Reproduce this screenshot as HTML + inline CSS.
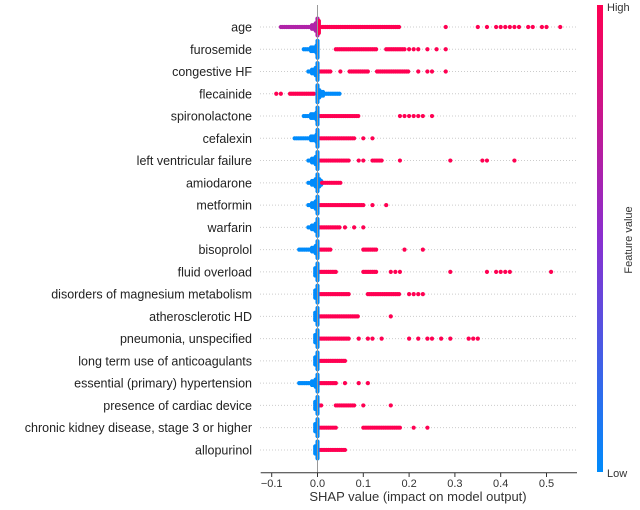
<!DOCTYPE html>
<html><head><meta charset="utf-8"><style>
body{margin:0;background:#fff;width:640px;height:505px;overflow:hidden;font-family:"Liberation Sans","DejaVu Sans",sans-serif}
</style></head><body>
<svg id="chart" width="640" height="505" xmlns="http://www.w3.org/2000/svg">
<defs><linearGradient id="cb" x1="0" y1="1" x2="0" y2="0"><stop offset="0" stop-color="#008bfb"/><stop offset="0.5" stop-color="#8a2fd0"/><stop offset="1" stop-color="#ff0052"/></linearGradient></defs>
<g id="rows"></g><g id="pts"></g><g id="axis"></g>
<rect x="597" y="5" width="6" height="467" fill="url(#cb)"/>
<text x="607" y="11" font-size="11" fill="#333">High</text>
<text x="607" y="477" font-size="11" fill="#333">Low</text>
<text transform="translate(632,240) rotate(-90)" text-anchor="middle" font-size="11" fill="#333">Feature value</text>
<text x="418" y="501" text-anchor="middle" font-size="13" fill="#333">SHAP value (impact on model output)</text>
</svg>
<script>
const features=["age","furosemide","congestive HF","flecainide","spironolactone","cefalexin","left ventricular failure","amiodarone","metformin","warfarin","bisoprolol","fluid overload","disorders of magnesium metabolism","atherosclerotic HD","pneumonia, unspecified","long term use of anticoagulants","essential (primary) hypertension","presence of cardiac device","chronic kidney disease, stage 3 or higher","allopurinol"];
// dense runs of low-value (blue) points [start,end]
const lowRuns=[[-0.08,0],[-0.03,0],[-0.02,0],[0,0.05],[-0.03,0],[-0.05,0],[-0.02,0],[-0.02,0.01],[-0.02,0],[-0.02,0],[-0.04,0],[-0.005,0],[-0.005,0],[-0.005,0],[-0.005,0],[-0.005,0],[-0.04,0],[-0.005,0],[-0.005,0],[-0.005,0]];
// dense runs of high-value (red) points
const highRuns=[[[0.01,0.18]],[[0.04,0.13],[0.15,0.19]],[[0,0.03],[0.07,0.11],[0.13,0.2]],[[-0.06,-0.005]],[[0.005,0.09]],[[0,0.08]],[[0,0.07],[0.12,0.14]],[[0.01,0.05]],[[0,0.1]],[[0,0.05]],[[0,0.03],[0.1,0.13]],[[0,0.04],[0.1,0.13]],[[0,0.07],[0.11,0.18]],[[0,0.09]],[[0,0.07]],[[0,0.06]],[[0,0.04]],[[0,0.01],[0.04,0.08]],[[0,0.04],[0.1,0.18]],[[0,0.06]]];
// isolated high-value points
const highPts=[[0.28,0.35,0.37,0.39,0.4,0.41,0.42,0.43,0.44,0.46,0.47,0.49,0.5,0.53],[0.2,0.21,0.22,0.24,0.26,0.28],[0.05,0.22,0.24,0.25,0.28],[-0.09,-0.08],[0.18,0.19,0.2,0.21,0.22,0.23,0.25],[0.1,0.12],[0.09,0.1,0.18,0.29,0.36,0.37,0.43],[],[0.12,0.15],[0.06,0.08,0.1],[0.19,0.23],[0.16,0.17,0.18,0.29,0.37,0.39,0.4,0.41,0.42,0.51],[0.2,0.21,0.22,0.23],[0.16],[0.09,0.11,0.12,0.14,0.2,0.22,0.24,0.25,0.27,0.29,0.33,0.34,0.35],[],[0.06,0.09,0.11],[0.1,0.16],[0.21,0.24],[]];
const xTicks=[-0.1,0,0.1,0.2,0.3,0.4,0.5];
const xTickLabels=["\u22120.1","0.0","0.1","0.2","0.3","0.4","0.5"];
const NS="http://www.w3.org/2000/svg";
const x=v=>317.5+v*458, y=i=>27+i*22.26;
function mk(tag,at,p){const e=document.createElementNS(NS,tag);for(const k in at)e.setAttribute(k,at[k]);p.appendChild(e);return e;}
const rows=document.getElementById('rows'),pts=document.getElementById('pts'),ax=document.getElementById('axis');
features.forEach((f,i)=>{
 const l=mk('line',{x1:260,x2:577,y1:y(i),y2:y(i),stroke:'#ccc','stroke-dasharray':'1,2'},rows);
 
 const t=mk('text',{x:252,y:y(i)+4.5,'text-anchor':'end','font-size':'12.5',fill:'#222'},rows);
 t.textContent=f;
 
});
function dot(v,yy,c){const d=mk('circle',{cx:x(v),cy:yy,r:2.1,fill:c},pts);
 }
features.forEach((f,i)=>{
 const lowC=i==0?'#b023a8':'#008bfb', hiC='#ff0052';
 const [a,b]=lowRuns[i];
 for(let v=a;v<=b+1e-9;v+=0.004){const near=Math.max(0,1-Math.abs(v)/0.02);const n=Math.round(near*2);
  for(let k=-n;k<=n;k++)dot(v,y(i)+k*1.8,lowC);}
 highRuns[i].forEach(([s,e])=>{for(let v=s;v<=e+1e-9;v+=0.004){dot(v,y(i),hiC);}});
 highPts[i].forEach(v=>dot(v,y(i),hiC));
 for(let k=-7;k<=7;k++)dot(0,y(i)+k*1.2,lowC);
 if(i==0){for(let k=-4;k<=4;k++)dot(0.003,y(i)+k*1.5,hiC);}
});
const zl=mk('line',{x1:x(0),x2:x(0),y1:5,y2:472.7,stroke:'#999','stroke-width':1},ax);

const al=mk('line',{x1:260.7,x2:577,y1:472.7,y2:472.7,stroke:'#333','stroke-width':1},ax);

xTicks.forEach((v,j)=>{
 const tk=mk('line',{x1:x(v),x2:x(v),y1:472.7,y2:477,stroke:'#333'},ax);
 
 const t=mk('text',{x:x(v),y:487,'text-anchor':'middle','font-size':'11',fill:'#333'},ax);
 t.textContent=xTickLabels[j];
 
});
</script>
</body></html>
